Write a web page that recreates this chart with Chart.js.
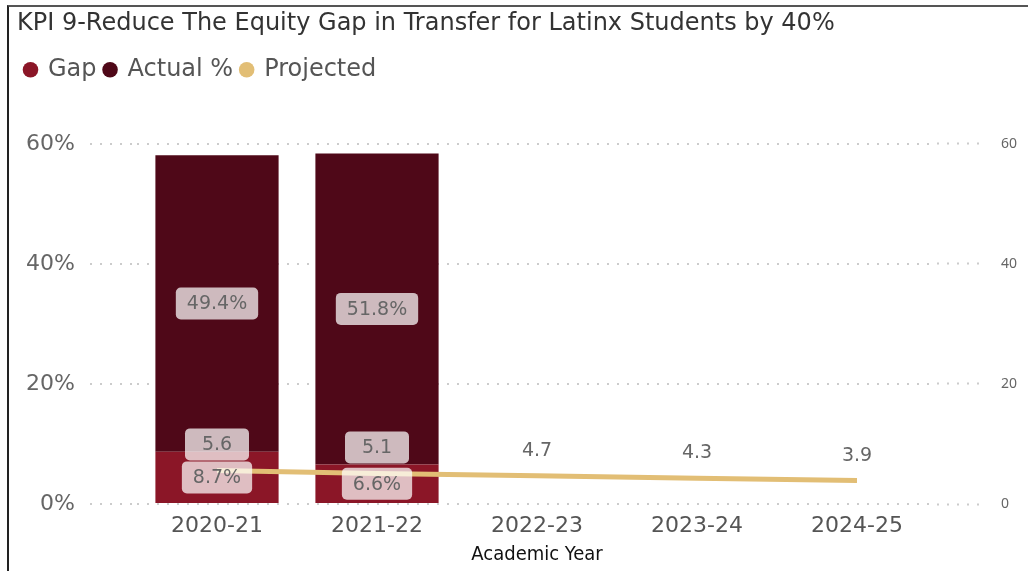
<!DOCTYPE html>
<html>
<head>
<meta charset="utf-8">
<script src="https://cdn.jsdelivr.net/npm/chart.js@4.4.0/dist/chart.umd.min.js"></script>
<style>
  html, body { margin: 0; padding: 0; background: #fff; overflow: hidden; }
  #wrap { position: relative; width: 1028px; height: 571px; }
  #frame { position: absolute; left: 7px; top: 5px; right: -5px; bottom: -5px;
           border-left: 2px solid #222; border-top: 2px solid #555; pointer-events: none; }
</style>
</head>
<body>
<div id="wrap">
  <canvas id="grafica" width="1028" height="571"></canvas>
  <div id="frame"></div>
</div>
<script>
// datos
const anios = ['2020-21', '2021-22', '2022-23', '2023-24', '2024-25'];
const brecha = [8.7, 6.6, null, null, null];
const actual = [49.4, 51.8, null, null, null];
const proyectado = [5.6, 5.1, 4.7, 4.3, 3.9];
const ticksIzq = [0, 20, 40, 60];

const fuente = "'DejaVu Sans', 'Open Sans', sans-serif";

// etiquetas con caja redondeada
const etiquetas = {
    id: 'etiquetas',
    afterDatasetsDraw(chart) {
        const ctx = chart.ctx;
        ctx.save();
        ctx.font = '19px ' + fuente;
        ctx.textAlign = 'center';
        ctx.textBaseline = 'middle';
        chart.data.datasets.forEach(function(ds, i) {
            const meta = chart.getDatasetMeta(i);
            meta.data.forEach(function(el, j) {
                const v = ds.data[j];
                if (v === null || v === undefined) return;
                let x, y, txt;
                if (ds.type === 'line') {
                    x = el.x; y = el.y - 26; txt = v.toFixed(1);
                } else {
                    x = el.x; y = (el.y + el.base) / 2; txt = v.toFixed(1) + '%';
                }
                const w = Math.max(ctx.measureText(txt).width + 22, 64);
                const h = 32;
                ctx.fillStyle = 'rgba(255,255,255,0.72)';
                ctx.beginPath();
                ctx.roundRect(x - w / 2, y - h / 2, w, h, 5);
                ctx.fill();
                ctx.fillStyle = '#666';
                ctx.fillText(txt, x, y + 1);
            });
        });
        ctx.restore();
    }
};

// espacio debajo de la leyenda
const margenLeyenda = {
    id: 'margenLeyenda',
    beforeInit(chart) {
        const fit = chart.legend.fit;
        chart.legend.fit = function() {
            fit.bind(chart.legend)();
            this.height = 94;
        };
    }
};

new Chart(document.getElementById('grafica').getContext('2d'), {
    data: {
        labels: anios,
        datasets: [{
            type: 'bar',
            label: 'Gap',
            data: brecha,
            backgroundColor: '#8B1627',
            stack: 's',
            order: 1
        }, {
            type: 'bar',
            label: 'Actual %',
            data: actual,
            backgroundColor: '#4F0818',
            stack: 's',
            order: 1
        }, {
            type: 'line',
            label: 'Projected',
            data: proyectado,
            yAxisID: 'y1',
            borderColor: '#E2BE75',
            backgroundColor: '#E2BE75',
            borderWidth: 5,
            pointRadius: 0,
            tension: 0,
            order: 0
        }]
    },
    options: {
        responsive: false,
        animation: false,
        layout: { padding: { left: 17, top: 7, right: 0, bottom: 4 } },
        datasets: { bar: { categoryPercentage: 1, barPercentage: 0.77 } },
        plugins: {
            tooltip: { enabled: false },
            title: {
                display: true,
                align: 'start',
                text: 'KPI 9-Reduce The Equity Gap in Transfer for Latinx Students by 40%',
                color: '#333',
                font: { family: fuente, size: 24, weight: 'normal' },
                padding: { top: 2, bottom: 12 }
            },
            legend: {
                align: 'start',
                labels: {
                    usePointStyle: true,
                    pointStyle: 'circle',
                    boxWidth: 11,
                    boxHeight: 11,
                    padding: 8,
                    color: '#555',
                    font: { family: fuente, size: 24 },
                    sort: (a, b) => a.datasetIndex - b.datasetIndex,
                    generateLabels: function(chart) {
                        const items = Chart.defaults.plugins.legend.labels.generateLabels(chart);
                        items.forEach(function(it) {
                            it.lineWidth = 0;
                            it.strokeStyle = it.fillStyle;
                        });
                        return items;
                    }
                }
            }
        },
        scales: {
            x: {
                stacked: true,
                grid: { display: false },
                border: { display: false },
                ticks: { color: '#555', padding: 1, font: { family: fuente, size: 22 } },
                title: {
                    display: true,
                    text: 'Academic Year',
                    color: '#111',
                    padding: { top: 0, bottom: 0 },
                    font: { family: "'DejaVu Sans Condensed', 'Liberation Sans Narrow', sans-serif", size: 20 }
                },
                afterFit: s => { s.height = 63; }
            },
            y: {
                stacked: true,
                min: 0,
                max: 60,
                afterBuildTicks: s => { s.ticks = ticksIzq.map(v => ({ value: v })); },
                border: { display: false, dash: [2, 8] },
                grid: {
                    color: '#cccccc',
                    lineWidth: 2,
                    tickColor: '#cccccc',
                    tickWidth: 2,
                    tickBorderDash: [2, 8],
                    tickLength: 47
                },
                ticks: {
                    color: '#666',
                    padding: 15,
                    font: { family: fuente, size: 22 },
                    callback: v => v + '%'
                },
                afterFit: s => { s.width = 120; }
            },
            y1: {
                position: 'right',
                min: 0,
                max: 60,
                afterBuildTicks: s => { s.ticks = ticksIzq.map(v => ({ value: v })); },
                border: { display: false },
                grid: {
                    drawOnChartArea: false,
                    tickColor: '#cccccc',
                    tickWidth: 2,
                    tickBorderDash: [2, 8],
                    tickLength: 48
                },
                ticks: {
                    color: '#666',
                    padding: 16,
                    font: { family: "'Noto Sans', 'Open Sans', sans-serif", size: 14 }
                },
                afterFit: s => { s.width = 91; }
            }
        }
    },
    plugins: [etiquetas, margenLeyenda]
});
</script>
</body>
</html>
